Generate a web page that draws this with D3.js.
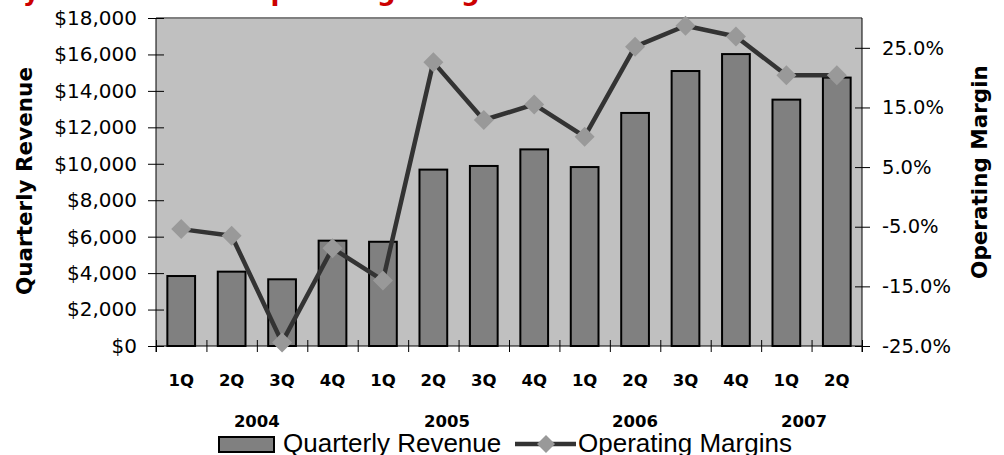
<!DOCTYPE html>
<html>
<head>
<meta charset="utf-8">
<script src="https://cdn.jsdelivr.net/npm/d3@7/dist/d3.min.js"></script>
<style>
  html, body { margin: 0; padding: 0; background: #ffffff; }
  svg { display: block; }
</style>
</head>
<body>
<svg id="chart" width="1004" height="455"></svg>
<script>
// Quarter labels along the bottom axis
const quarters = ["1Q","2Q","3Q","4Q","1Q","2Q","3Q","4Q","1Q","2Q","3Q","4Q","1Q","2Q"];
// Year labels under the quarters
const years = ["2004","2005","2006","2007"];
// Quarterly revenue ($)
const revenue = [3840, 4080, 3660, 5780, 5720, 9680, 9880, 10790, 9820, 12790, 15090, 16020, 13520, 14730];
// Operating margin (%)
const margin = [-5.4, -6.5, -24.4, -8.6, -14.0, 22.6, 12.9, 15.5, 10.1, 25.2, 28.7, 26.9, 20.4, 20.4];
// Tick values for both value axes
const revenueTicks = [0, 2000, 4000, 6000, 8000, 10000, 12000, 14000, 16000, 18000];
const marginTicks = [-25, -15, -5, 5, 15, 25];

const svg = d3.select("#chart");

// plot frame
const plotLeft = 156, plotRight = 862, plotTop = 18, plotBottom = 346;

const x = d3.scaleBand()
  .domain(d3.range(quarters.length))
  .range([plotLeft, plotRight])
  .paddingInner(0.45)
  .paddingOuter(0.225);
// boundaries between categories (for the tick marks and year labels)
const xb = d3.scaleLinear().domain([0, quarters.length]).range([plotLeft, plotRight]);
const yL = d3.scaleLinear().domain([0, 18000]).range([plotBottom, plotTop]);
const yR = d3.scaleLinear().domain([-25, 30]).range([plotBottom, plotTop]);

const tickFont = "'DejaVu Sans', Verdana, sans-serif";

// plot background
svg.append("rect")
  .attr("x", plotLeft).attr("y", plotTop)
  .attr("width", plotRight - plotLeft).attr("height", plotBottom - plotTop)
  .attr("fill", "#c0c0c0");
svg.append("line")
  .attr("x1", plotLeft).attr("x2", plotRight)
  .attr("y1", plotTop).attr("y2", plotTop)
  .attr("stroke", "#808080").attr("stroke-width", 2);

// title (sits above the page edge, only its descenders show)
svg.append("text")
  .attr("x", -100).attr("y", 0)
  .attr("font-family", tickFont).attr("font-weight", "bold")
  .attr("font-size", 26).attr("fill", "#cc0000")
  .text("Quarterly Revenue and Operating Margins");

// revenue bars
svg.append("g").selectAll("rect")
  .data(revenue)
  .join("rect")
  .attr("x", (d, i) => x(i))
  .attr("y", d => yL(d))
  .attr("width", x.bandwidth())
  .attr("height", d => yL(0) - yL(d))
  .attr("fill", "#808080")
  .attr("stroke", "#000")
  .attr("stroke-width", 2);

// left axis
const gL = svg.append("g")
  .attr("transform", `translate(${plotLeft},0)`)
  .call(d3.axisLeft(yL).tickValues(revenueTicks)
    .tickFormat(d => "$" + d3.format(",")(d)).tickSize(8).tickPadding(11));
gL.select(".domain").attr("stroke", "#000").attr("d", `M0,${plotTop}V${plotBottom + 6}`);
gL.selectAll(".tick line").attr("x1", 8).attr("stroke", "#000");
gL.selectAll(".tick text")
  .attr("font-family", tickFont).attr("font-size", 20).attr("fill", "#000");

// right axis
const gR = svg.append("g")
  .attr("transform", `translate(${plotRight},0)`)
  .call(d3.axisRight(yR).tickValues(marginTicks)
    .tickFormat(d => d.toFixed(1) + "%").tickSize(8).tickPadding(12));
gR.select(".domain").attr("stroke", "#000").attr("d", `M0,${plotTop}V${plotBottom + 6}`);
gR.selectAll(".tick line").attr("x1", -7).attr("stroke", "#000");
gR.selectAll(".tick text")
  .attr("font-family", tickFont).attr("font-size", 19.5).attr("fill", "#000");

// bottom axis: boundary ticks
const gB = svg.append("g")
  .attr("transform", `translate(0,${plotBottom})`)
  .call(d3.axisBottom(xb).tickValues(d3.range(quarters.length + 1))
    .tickFormat("").tickSize(6));
gB.select(".domain").attr("stroke", "#000").attr("d", `M${plotLeft},0H${plotRight}`);
gB.selectAll(".tick line").attr("y1", -6).attr("stroke", "#000");

// bottom axis: quarter labels
const gQ = svg.append("g")
  .attr("transform", `translate(0,${plotBottom})`)
  .call(d3.axisBottom(x).tickFormat(i => quarters[i]).tickSize(0));
gQ.select(".domain").remove();
gQ.selectAll(".tick text")
  .attr("y", 40).attr("dy", null)
  .attr("font-family", tickFont).attr("font-weight", "bold")
  .attr("font-size", 16.5).attr("fill", "#000");

// year labels
const yearAnchors = [2.0, 5.77, 9.5, 12.85];
svg.append("g").selectAll("text")
  .data(years)
  .join("text")
  .attr("x", (d, i) => xb(yearAnchors[i]))
  .attr("y", 427)
  .attr("text-anchor", "middle")
  .attr("font-family", tickFont).attr("font-weight", "bold")
  .attr("font-size", 16.5).attr("fill", "#000")
  .text(d => d);

// operating margin line
const cx = i => x(i) + x.bandwidth() / 2;
svg.append("path")
  .datum(margin)
  .attr("d", d3.line().x((d, i) => cx(i)).y(d => yR(d)))
  .attr("fill", "none")
  .attr("stroke", "#333333")
  .attr("stroke-width", 4.5)
  .attr("stroke-linejoin", "round");

// diamond markers
const diamond = r => `M0,${-r}L${r},0L0,${r}L${-r},0Z`;
svg.append("g").selectAll("path")
  .data(margin)
  .join("path")
  .attr("transform", (d, i) => `translate(${cx(i)},${yR(d)})`)
  .attr("d", diamond(10))
  .attr("fill", "#999999");

// axis titles
svg.append("text")
  .attr("transform", "translate(32,181) rotate(-90)")
  .attr("text-anchor", "middle")
  .attr("font-family", tickFont).attr("font-weight", "bold")
  .attr("font-size", 21.5).attr("fill", "#000")
  .text("Quarterly Revenue");
svg.append("text")
  .attr("transform", "translate(987,172) rotate(-90)")
  .attr("text-anchor", "middle")
  .attr("font-family", tickFont).attr("font-weight", "bold")
  .attr("font-size", 21.5).attr("fill", "#000")
  .text("Operating Margin");

// legend
const legendFont = "'Liberation Sans', Arial, sans-serif";
const lg = svg.append("g");
lg.append("rect")
  .attr("x", 219).attr("y", 437).attr("width", 55).attr("height", 15)
  .attr("fill", "#808080").attr("stroke", "#000").attr("stroke-width", 2);
lg.append("text")
  .attr("x", 283).attr("y", 452)
  .attr("font-family", legendFont).attr("font-size", 26).attr("fill", "#000")
  .text("Quarterly Revenue");
lg.append("line")
  .attr("x1", 515).attr("x2", 576).attr("y1", 444).attr("y2", 444)
  .attr("stroke", "#333333").attr("stroke-width", 4.5);
lg.append("path")
  .attr("transform", "translate(546,444)")
  .attr("d", diamond(9))
  .attr("fill", "#999999");
lg.append("text")
  .attr("x", 578).attr("y", 452)
  .attr("font-family", legendFont).attr("font-size", 26).attr("fill", "#000")
  .text("Operating Margins");
</script>
</body>
</html>
